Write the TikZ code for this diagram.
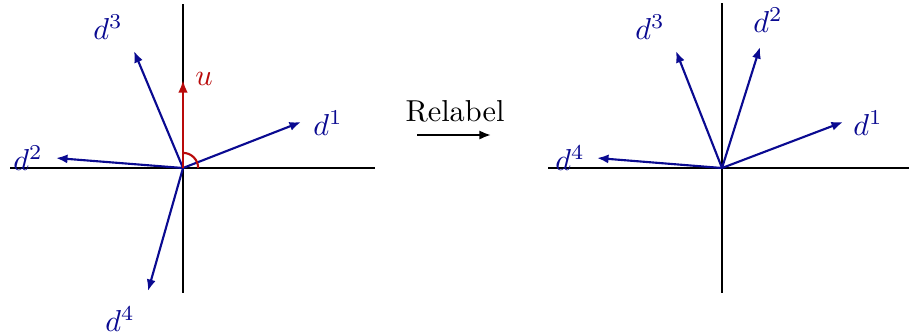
\documentclass[tikz,border=0pt]{standalone}
\usetikzlibrary{arrows.meta}
\definecolor{vecblue}{RGB}{10,10,145}
\definecolor{normred}{RGB}{185,10,10}

\begin{document}
\begin{tikzpicture}[
  x=0.33pt, y=-0.33pt,
  axis/.style={line width=0.7pt, black},
  vec/.style={-{Latex[length=3.8pt,width=3pt]}, line width=0.7pt, vecblue},
  normal/.style={-{Latex[length=4.2pt,width=3.2pt]}, line width=0.8pt, normred},
  vlabel/.style={text=vecblue},
  relabel/.style={-{Latex[length=3.8pt,width=3pt]}, line width=0.7pt}
]
\useasboundingbox (0,0) rectangle (909,335);

% left: original directions
\coordinate (O1) at (183,168);
\coordinate (top1) at (183,4);
\coordinate (bot1) at (183,293);
\coordinate (lft1) at (10,168);
\coordinate (rgt1) at (375,168);
\draw[axis] (lft1) -- (rgt1);
\draw[axis] (top1) -- (bot1);

\coordinate (a1) at (301,122);
\coordinate (a2) at (56,158);
\coordinate (a3) at (134,51);
\coordinate (a4) at (148,291);
\coordinate (u) at (183,80);
\draw[vec] (O1) -- (a1);
\draw[vec] (O1) -- (a2);
\draw[vec] (O1) -- (a3);
\draw[vec] (O1) -- (a4);
\draw[normal] (O1) -- (u);
\draw[normred, line width=0.7pt] ([xshift=5pt]O1) arc[start angle=0, end angle=90, radius=5pt];

\node[vlabel] (l1) at (328,123) {$d^1$};
\node[vlabel] (l2) at (28,158) {$d^2$};
\node[vlabel] (l3) at (108,27) {$d^3$};
\node[vlabel] (l4) at (120,319) {$d^4$};
\node[text=normred] (lu) at (204,79) {$u$};

% middle
\node (rl) at (455,111) {Relabel};
\coordinate (rs) at (417,135);
\coordinate (re) at (491,135);
\draw[relabel] (rs) -- (re);

% right: relabelled directions
\coordinate (O2) at (722,168);
\coordinate (top2) at (722,3);
\coordinate (bot2) at (722,293);
\coordinate (lft2) at (548,168);
\coordinate (rgt2) at (909,168);
\draw[axis] (lft2) -- (rgt2);
\draw[axis] (top2) -- (bot2);

\coordinate (b1) at (843,122);
\coordinate (b2) at (760,47);
\coordinate (b3) at (676,51);
\coordinate (b4) at (597,158);
\draw[vec] (O2) -- (b1);
\draw[vec] (O2) -- (b2);
\draw[vec] (O2) -- (b3);
\draw[vec] (O2) -- (b4);

\node[vlabel] (m1) at (868,123) {$d^1$};
\node[vlabel] (m2) at (768,20) {$d^2$};
\node[vlabel] (m3) at (650,27) {$d^3$};
\node[vlabel] (m4) at (570,158) {$d^4$};
\end{tikzpicture}
\end{document}
